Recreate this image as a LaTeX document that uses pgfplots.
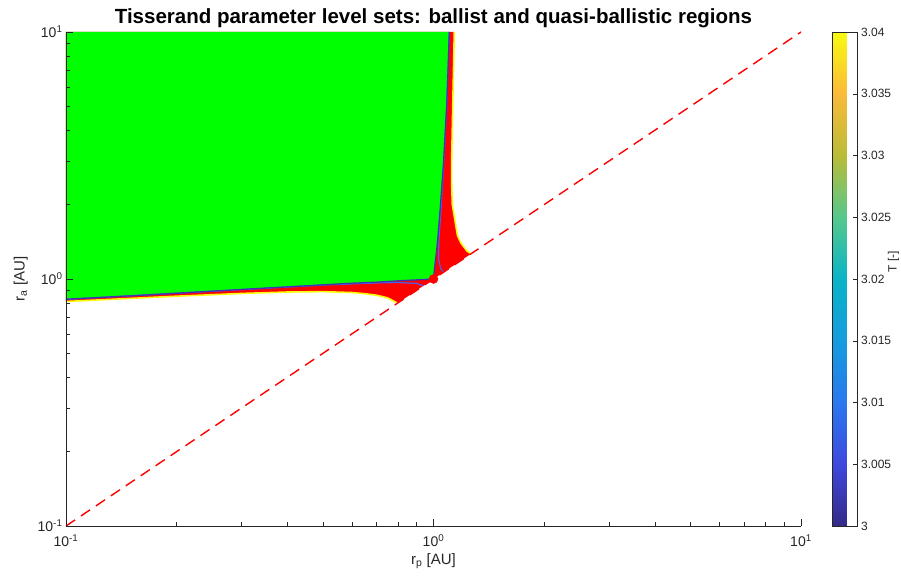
\documentclass[border=0pt]{standalone}
\usepackage{fontspec}
\setmainfont{Liberation Sans}
\usepackage{pgfplots}
\pgfplotsset{compat=1.18}
\definecolor{axgray}{RGB}{38,38,38}
\definecolor{mgreen}{RGB}{0,255,0}
\definecolor{mred}{RGB}{255,0,0}
\definecolor{pyellow}{RGB}{249,251,14}
\definecolor{pblue}{RGB}{62,52,175}
\definecolor{pblue2}{RGB}{80,95,235}
\begin{document}
\begin{tikzpicture}
\useasboundingbox (-66pt,-50pt) rectangle (835pt,526pt);
\begin{axis}[
  scale only axis, width=735pt, height=494pt,
  xmode=log, ymode=log, xmin=0.1, xmax=10, ymin=0.1, ymax=10,
  xtick={0.1,1,10}, ytick={0.1,1,10},
  xticklabels={10\textsuperscript{-1},10\textsuperscript{0},10\textsuperscript{1}},
  yticklabels={10\textsuperscript{-1},10\textsuperscript{0},10\textsuperscript{1}},
  axis x line*=bottom, axis y line*=left,
  axis on top,
  axis line style={axgray}, tick style={axgray, line width=0.5pt},
  major tick length=7pt, minor tick length=4.5pt,
  tick align=inside,
  ticklabel style={font=\fontsize{14}{14}\selectfont, text=axgray},
  xticklabel style={yshift=-5pt},
  xlabel={r\textsubscript{p} [AU]}, ylabel={r\textsubscript{a} [AU]},
  label style={font=\fontsize{15}{15}\selectfont, text=axgray},
  ylabel style={yshift=3pt},
  title={Tisserand parameter level sets: ballist and quasi-ballistic regions},
  title style={font=\bfseries\fontsize{20.5}{20.5}\selectfont, yshift=-5pt},
  colormap={parula}{rgb255(0cm)=(53,42,135); rgb255(1cm)=(62,72,222); rgb255(2cm)=(42,120,238); rgb255(3cm)=(22,155,222); rgb255(4cm)=(10,180,200); rgb255(5cm)=(85,200,140); rgb255(6cm)=(185,188,55); rgb255(7cm)=(250,186,58); rgb255(8cm)=(249,251,14)},
  point meta min=0, point meta max=40,
  colorbar,
  colorbar style={
    width=25pt, at={(parent axis.north east)}, anchor=north west, xshift=23pt,
    ytick={0,5,10,15,20,25,30,35,40},
    yticklabels={3,3.005,3.01,3.015,3.02,3.025,3.03,3.035,3.04},
    ytick pos=right, yticklabel pos=right,
    major tick length=5pt, tick align=inside,
    axis line style={axgray}, tick style={axgray},
    yticklabel style={font=\fontsize{12}{12}\selectfont, text=axgray},
    ylabel={T [-]},
    ylabel style={font=\fontsize{12}{12}\selectfont, text=axgray,
      at={(axis description cs:1,0.535)}, anchor=center, yshift=-36pt},
  },
]
% red band: 3 < T < 3.04 (above diagonal)
\addplot[draw=none, fill=mred] coordinates {
 (0.1,0.811) (0.15,0.8347) (0.2,0.852) (0.3,0.874) (0.4,0.8858) (0.5,0.889)
 (0.6,0.8815) (0.65,0.872) (0.7,0.86) (0.75,0.839) (0.78,0.8138) (0.79,0.805)
 (0.7975,0.7975) (1.265,1.265) (1.25,1.28) (1.232,1.3) (1.187,1.4) (1.162,1.5)
 (1.125,2) (1.12,2.5) (1.1203,3) (1.128,5) (1.139,10) (0.1,10)} -- cycle;
% green: T < 3
\addplot[draw=none, fill=mgreen] coordinates {
 (0.1,0.828) (0.15,0.855) (0.2,0.876) (0.3,0.907) (0.4,0.9295) (0.5,0.947)
 (0.6,0.9615) (0.7,0.971) (0.8,0.983) (0.9,0.992) (1,1) (1.006,1.1) (1.013,1.2)
 (1.02,1.3) (1.029,1.5) (1.045,2) (1.0655,3) (1.086,5) (1.0955,7) (1.104,10) (0.1,10)} -- cycle;
% T = 3.04 contour
\addplot[pyellow, line width=1.6pt] coordinates {
 (0.1,0.811) (0.15,0.8347) (0.2,0.852) (0.3,0.874) (0.4,0.8858) (0.5,0.889)
 (0.6,0.8815) (0.65,0.872) (0.7,0.86) (0.75,0.839) (0.78,0.8138) (0.79,0.805) (0.7975,0.7975)};
\addplot[pyellow, line width=1.6pt] coordinates {
 (1.265,1.265) (1.25,1.28) (1.232,1.3) (1.187,1.4) (1.162,1.5)
 (1.125,2) (1.12,2.5) (1.1203,3) (1.128,5) (1.139,10)};
% T = 3.003 contour
\addplot[pblue2, line width=1.2pt] coordinates {
 (0.1,0.8275) (0.2,0.8755) (0.3,0.906) (0.5,0.945) (0.7,0.964) (0.8,0.968) (0.9,0.96) (0.939,0.939)};
\addplot[pblue2, line width=1.2pt] coordinates {
 (1.0656,1.0656) (1.047,1.1) (1.0325,1.2) (1.032,1.3) (1.0365,1.5) (1.0505,2) (1.067,3) (1.0865,5) (1.1043,10)};
% T = 3 contour
\addplot[pblue, line width=1.3pt] coordinates {
 (0.1,0.828) (0.15,0.855) (0.2,0.876) (0.3,0.907) (0.4,0.9295) (0.5,0.947)
 (0.6,0.9615) (0.7,0.971) (0.8,0.983) (0.9,0.992) (1,1) (1.006,1.1) (1.013,1.2)
 (1.02,1.3) (1.029,1.5) (1.045,2) (1.0655,3) (1.086,5) (1.0955,7) (1.104,10)};
% rp = ra
\addplot[mred, line width=1.4pt, dash pattern=on 11pt off 7pt] coordinates {(0.1,0.1) (10,10)};
\addplot[only marks, mark=*, mark size=4.5pt, mark options={fill=mred, draw=mred}] coordinates {(1,1)};
\end{axis}
\end{tikzpicture}
\end{document}
